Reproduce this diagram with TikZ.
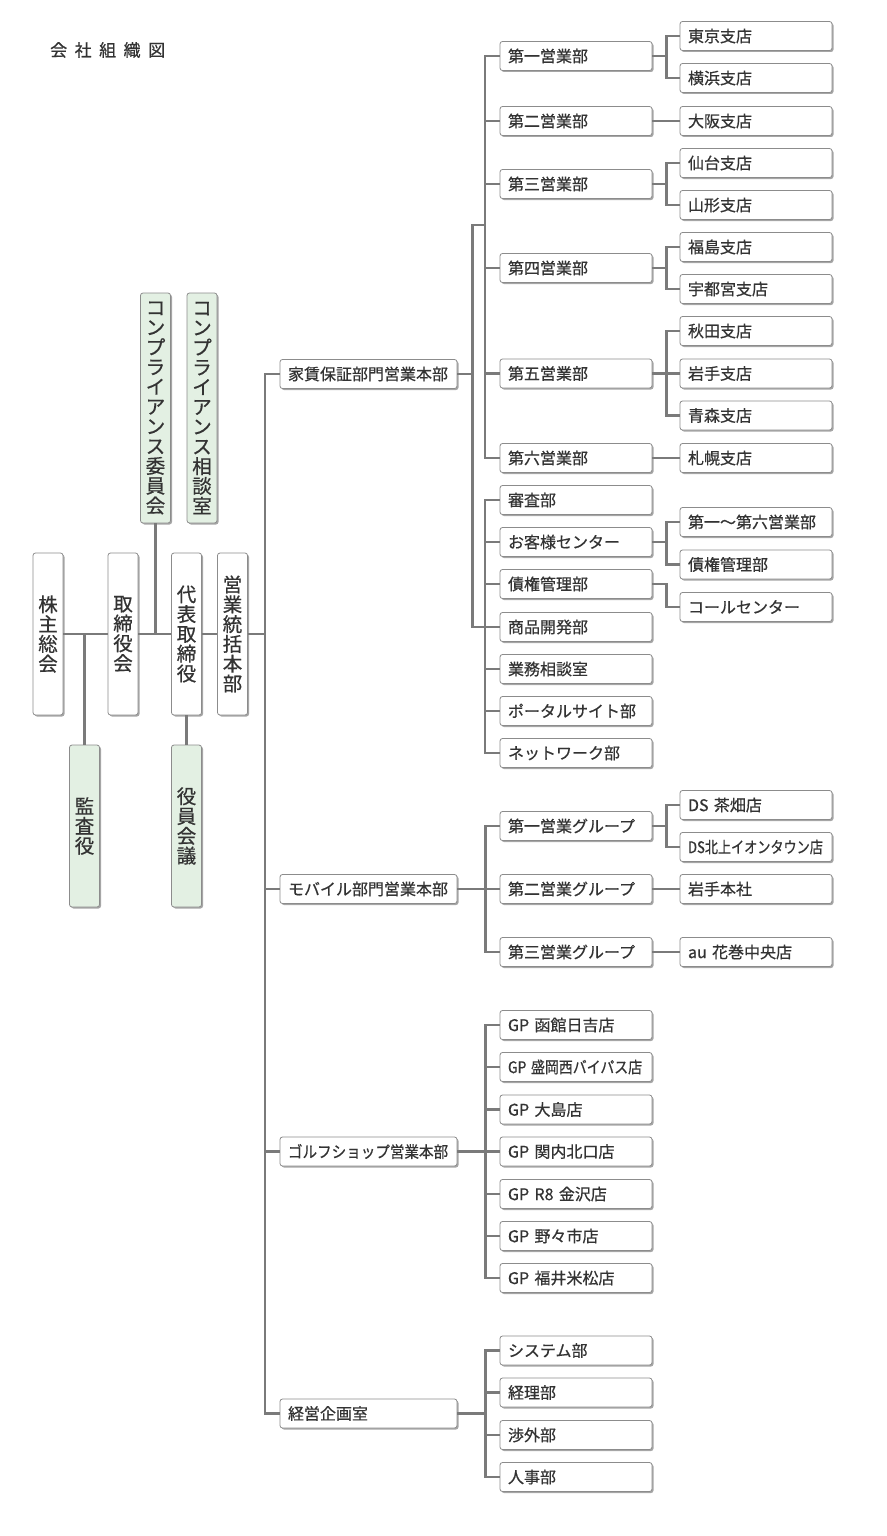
\documentclass[tikz,border=0pt]{standalone}
\usepackage{fontspec}
\usepackage{graphicx}
\newfontfamily\jp[FakeBold=0.6]{Noto Sans CJK JP}
\usetikzlibrary{shadows}
\setlength{\parindent}{0pt}
\definecolor{trait}{HTML}{7A7A7A}
\definecolor{cadre}{HTML}{8C8C8C}
\definecolor{verte}{HTML}{E3F0E3}
\definecolor{texte}{HTML}{333333}

\begin{document}
\begin{tikzpicture}[x=1pt,y=-1pt]
\tikzset{boite/.style={draw=cadre, fill=white, line width=0.8pt, rounded corners=2.5pt,
    drop shadow={shadow xshift=1.5pt, shadow yshift=-1.5pt, opacity=0.35, fill=black},
    font=\jp\fontsize{16}{19}\selectfont, text=texte, align=left,
    inner xsep=8pt, inner ysep=0pt, minimum height=29pt, text width=136pt},
  grande/.style={boite, text width=161pt},
  boiteV/.style={boite, align=center, text width=22pt, inner xsep=4pt, minimum width=30pt,
    font=\jp\fontsize{19.5}{19.8}\selectfont},
  ligne/.style={draw=trait, line width=2.4pt}}
\useasboundingbox (0,0) rectangle (886,1536);
\node[font=\jp\fontsize{17}{20}\selectfont, text=texte, anchor=west, inner sep=0pt] (T) at (50,50) {会\hspace{7.5pt}社\hspace{7.5pt}組\hspace{7.5pt}織\hspace{7.5pt}図};
% direction
\node[boiteV, minimum height=230pt, fill=verte] (CI) at (155.5,408) {コ\\ン\\プ\\ラ\\イ\\ア\\ン\\ス\\委\\員\\会};
\node[boiteV, minimum height=230pt, fill=verte] (CS) at (202,408) {コ\\ン\\プ\\ラ\\イ\\ア\\ン\\ス\\相\\談\\室};
\node[boiteV, minimum height=162pt] (KS) at (48,634) {株\\主\\総\\会};
\node[boiteV, minimum height=162pt] (TR) at (123,634) {取\\締\\役\\会};
\node[boiteV, minimum height=162pt] (DT) at (186.5,634) {代\\表\\取\\締\\役};
\node[boiteV, minimum height=162pt] (ET) at (232.5,634) {営\\業\\統\\括\\本\\部};
\node[boiteV, minimum height=162pt, fill=verte] (KY) at (84.5,826) {監\\査\\役};
\node[boiteV, minimum height=162pt, fill=verte] (YK) at (186.5,826) {役\\員\\会\\議};
\draw[ligne] (KS) -- (TR);
\draw[ligne] (TR) -- (DT);
\draw[ligne] (DT) -- (ET);
\draw[ligne] (CI) -- (CI |- TR);
\draw[ligne] (KY) -- (KY |- KS);
\draw[ligne] (DT) -- (YK);
% honbu
\node[grande] (H1) at (368.5,374) {家賃保証部門営業本部};
\node[grande] (H2) at (368.5,889) {モバイル部門営業本部};
\node[grande] (H3) at (368.5,1151.5) {\scalebox{0.91}[1]{ゴルフショップ営業本部}};
\node[grande] (H4) at (368.5,1413.5) {経営企画室};
\draw[ligne] (ET.east) -- ++(17,0) |- (H1.west);
\draw[ligne] (ET.east) -- ++(17,0) |- (H2.west);
\draw[ligne] (ET.east) -- ++(17,0) |- (H3.west);
\draw[ligne] (ET.east) -- ++(17,0) |- (H4.west);
% yachin hosho
\node[boite] (B1) at (576,56) {第一営業部};
\node[boite] (B2) at (576,121) {第二営業部};
\node[boite] (B3) at (576,184) {第三営業部};
\node[boite] (B4) at (576,268) {第四営業部};
\node[boite] (B5) at (576,373.5) {第五営業部};
\node[boite] (B6) at (576,458) {第六営業部};
\node[boite] (B7) at (576,500) {審査部};
\node[boite] (B8) at (576,542) {お客様センター};
\node[boite] (B9) at (576,584) {債権管理部};
\node[boite] (B10) at (576,627) {商品開発部};
\node[boite] (B11) at (576,669) {業務相談室};
\node[boite] (B12) at (576,711) {ポータルサイト部};
\node[boite] (B13) at (576,753) {ネットワーク部};
\coordinate (J1) at (485,225);
\coordinate (J2) at (485,627);
\draw[ligne] (H1.east) -- ++(15,0) |- (J1);
\draw[ligne] (H1.east) -- ++(15,0) |- (J2);
\draw[ligne] (J1) |- (B1.west);
\draw[ligne] (J1) |- (B2.west);
\draw[ligne] (J1) |- (B3.west);
\draw[ligne] (J1) |- (B4.west);
\draw[ligne] (J1) |- (B5.west);
\draw[ligne] (J1) |- (B6.west);
\draw[ligne] (J2) |- (B7.west);
\draw[ligne] (J2) |- (B8.west);
\draw[ligne] (J2) |- (B9.west);
\draw[ligne] (J2) |- (B10.west);
\draw[ligne] (J2) |- (B11.west);
\draw[ligne] (J2) |- (B12.west);
\draw[ligne] (J2) |- (B13.west);
\node[boite] (S1) at (756,36) {東京支店};
\node[boite] (S2) at (756,78) {横浜支店};
\node[boite] (S3) at (756,121) {大阪支店};
\node[boite] (S4) at (756,163) {仙台支店};
\node[boite] (S5) at (756,205) {山形支店};
\node[boite] (S6) at (756,247) {福島支店};
\node[boite] (S7) at (756,289) {宇都宮支店};
\node[boite] (S8) at (756,331) {秋田支店};
\node[boite] (S9) at (756,373.5) {岩手支店};
\node[boite] (S10) at (756,415.5) {青森支店};
\node[boite] (S11) at (756,458) {札幌支店};
\node[boite] (S12) at (756,522) {第一～第六営業部};
\node[boite] (S13) at (756,564.5) {債権管理部};
\node[boite] (S14) at (756,607) {コールセンター};
\draw[ligne] (B1.east) -- ++(14,0) |- (S1.west);
\draw[ligne] (B1.east) -- ++(14,0) |- (S2.west);
\draw[ligne] (B2) -- (S3);
\draw[ligne] (B3.east) -- ++(14,0) |- (S4.west);
\draw[ligne] (B3.east) -- ++(14,0) |- (S5.west);
\draw[ligne] (B4.east) -- ++(14,0) |- (S6.west);
\draw[ligne] (B4.east) -- ++(14,0) |- (S7.west);
\draw[ligne] (B5.east) -- ++(14,0) |- (S8.west);
\draw[ligne] (B5) -- (S9);
\draw[ligne] (B5.east) -- ++(14,0) |- (S10.west);
\draw[ligne] (B6) -- (S11);
\draw[ligne] (B8.east) -- ++(14,0) |- (S12.west);
\draw[ligne] (B8.east) -- ++(14,0) |- (S13.west);
\draw[ligne] (B9.east) -- ++(14,0) |- (S14.west);
% mobile
\node[boite] (M1) at (576,826) {第一営業グループ};
\node[boite] (M2) at (576,889) {第二営業グループ};
\node[boite] (M3) at (576,952) {第三営業グループ};
\draw[ligne] (H2.east) -- ++(28,0) |- (M1.west);
\draw[ligne] (H2) -- (M2);
\draw[ligne] (H2.east) -- ++(28,0) |- (M3.west);
\node[boite] (D1) at (756,805) {DS 茶畑店};
\node[boite] (D2) at (756,847) {\scalebox{0.82}[1]{DS北上イオンタウン店}};
\node[boite] (D3) at (756,889) {岩手本社};
\node[boite] (D4) at (756,952) {au 花巻中央店};
\draw[ligne] (M1.east) -- ++(14,0) |- (D1.west);
\draw[ligne] (M1.east) -- ++(14,0) |- (D2.west);
\draw[ligne] (M2) -- (D3);
\draw[ligne] (M3) -- (D4);
% golf
\node[boite] (G1) at (576,1025) {GP 函館日吉店};
\node[boite] (G2) at (576,1067) {\scalebox{0.87}[1]{GP 盛岡西バイパス店}};
\node[boite] (G3) at (576,1109.5) {GP 大島店};
\node[boite] (G4) at (576,1151.5) {GP 関内北口店};
\node[boite] (G5) at (576,1194) {GP R8 金沢店};
\node[boite] (G6) at (576,1236) {GP 野々市店};
\node[boite] (G7) at (576,1278) {GP 福井米松店};
\draw[ligne] (H3.east) -- ++(28,0) |- (G1.west);
\draw[ligne] (H3.east) -- ++(28,0) |- (G2.west);
\draw[ligne] (H3.east) -- ++(28,0) |- (G3.west);
\draw[ligne] (H3) -- (G4);
\draw[ligne] (H3.east) -- ++(28,0) |- (G5.west);
\draw[ligne] (H3.east) -- ++(28,0) |- (G6.west);
\draw[ligne] (H3.east) -- ++(28,0) |- (G7.west);
% keiei kikaku
\node[boite] (K1) at (576,1350.5) {システム部};
\node[boite] (K2) at (576,1392.5) {経理部};
\node[boite] (K3) at (576,1435) {渉外部};
\node[boite] (K4) at (576,1477) {人事部};
\draw[ligne] (H4.east) -- ++(28,0) |- (K1.west);
\draw[ligne] (H4.east) -- ++(28,0) |- (K2.west);
\draw[ligne] (H4.east) -- ++(28,0) |- (K3.west);
\draw[ligne] (H4.east) -- ++(28,0) |- (K4.west);
\end{tikzpicture}
\end{document}
